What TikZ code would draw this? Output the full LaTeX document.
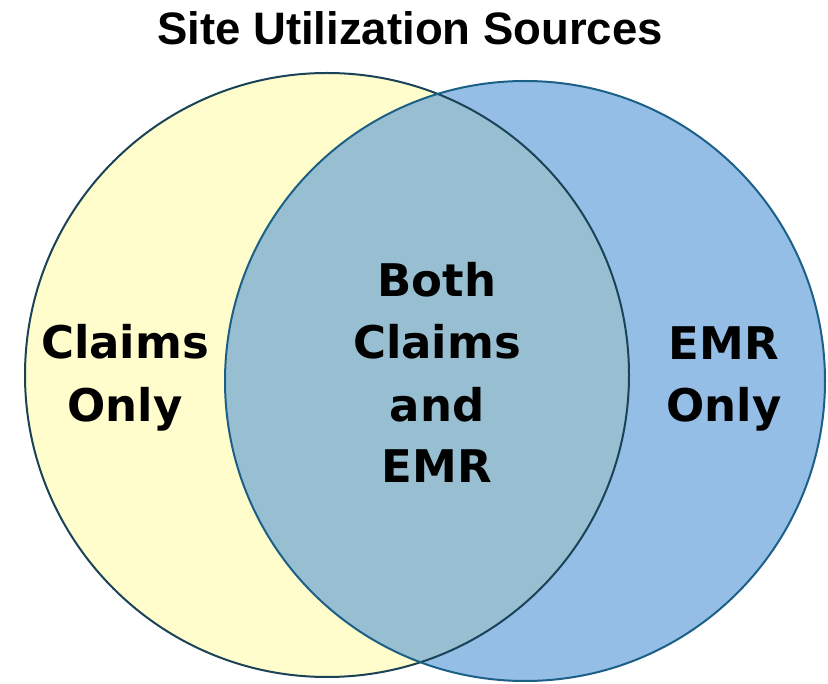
\documentclass[tikz,border=0pt]{standalone}
\usepackage{fontspec}
\newfontfamily\labelfont{DejaVu Sans}[BoldFont={DejaVu Sans Bold}]
\newfontfamily\titlefont{Liberation Sans}
\definecolor{yellowfill}{HTML}{FEFDCB}
\definecolor{bluefill}{HTML}{95BEE7}
\definecolor{lensfill}{HTML}{97BFD1}
\definecolor{leftedge}{HTML}{1B4358}
\definecolor{rightedge}{HTML}{1D6087}
\begin{document}
\begin{tikzpicture}[x=1pt,y=-1pt,
  lbl/.style={font=\labelfont\bfseries\fontsize{45}{62}\selectfont, align=center, text=black, inner sep=0pt, anchor=base},
  ttl/.style={font=\titlefont\bfseries\fontsize{45.5}{50}\selectfont, text=black, inner sep=0pt, anchor=base}]
\useasboundingbox (0,0) rectangle (828,684);
\coordinate (lc) at (327,375);
\coordinate (rc) at (525,381);
\fill[yellowfill] (lc) circle (302);
\fill[bluefill] (rc) circle (300);
\begin{scope}
  \clip (lc) circle (302);
  \fill[lensfill] (rc) circle (300);
\end{scope}
\draw[leftedge, line width=2pt] (lc) circle (302);
\draw[rightedge, line width=2pt] (rc) circle (300);
\node[ttl] (title) at (410,45) {Site Utilization Sources};
\node[lbl] (claims1) at (125,359) {Claims};
\node[lbl] (claims2) at (125,422) {Only};
\node[lbl] (both1) at (437,297) {Both};
\node[lbl] (both2) at (437,359) {Claims};
\node[lbl] (both3) at (437,422) {and};
\node[lbl] (both4) at (437,483) {EMR};
\node[lbl] (emr1) at (724,360) {EMR};
\node[lbl] (emr2) at (724,422) {Only};
\end{tikzpicture}
\end{document}
